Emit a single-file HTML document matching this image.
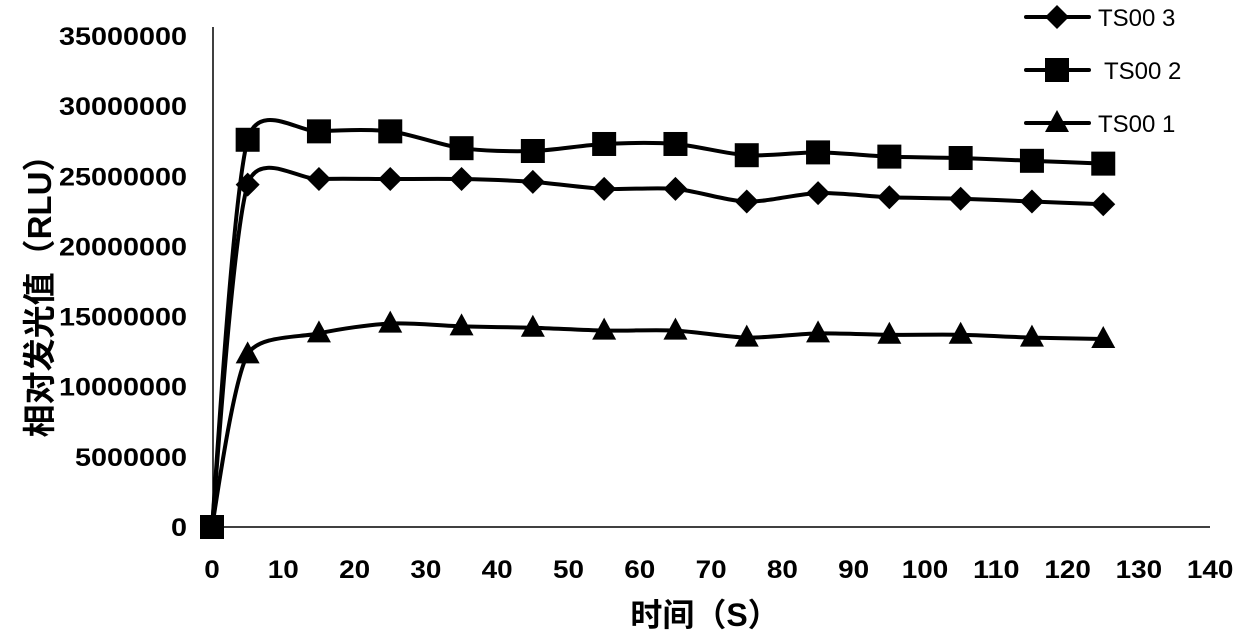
<!DOCTYPE html><html><head><meta charset="utf-8"><style>
body{margin:0;background:#fff;width:1240px;height:641px;overflow:hidden}
svg{display:block}
text{font-family:"Liberation Sans","Noto Sans CJK SC",sans-serif;fill:#000}
</style></head><body>
<svg id="s" width="1240" height="641" xmlns="http://www.w3.org/2000/svg"></svg>
<script>
const s=document.getElementById('s');
const X=t=>212+t*7.13, Y=v=>527-v*14.03;
let h='';
h+='<line x1="213" y1="27" x2="213" y2="527" stroke="#000" stroke-width="1.5"/>';
h+='<line x1="213" y1="527" x2="1210" y2="527" stroke="#000" stroke-width="1.5"/>';
for(let i=0;i<=7;i++){const v=i*5;const str=v?String(v*1000000):'0';
h+=`<text x="187" y="${Y(v)+9}" text-anchor="end" font-size="25" font-weight="bold" textLength="${str.length*16}" lengthAdjust="spacingAndGlyphs">${str}</text>`;}
for(let t=0;t<=140;t+=10){const str=String(t);h+=`<text x="${X(t)}" y="578" text-anchor="middle" font-size="25" font-weight="bold" textLength="${str.length*15.5}" lengthAdjust="spacingAndGlyphs">${str}</text>`;}
h+='<text x="705" y="626" text-anchor="middle" font-size="32" font-weight="bold">时间（S）</text>';
h+='<text transform="translate(51,288) rotate(-90)" text-anchor="middle" font-size="33" font-weight="bold">相对发光值（RLU）</text>';
const ts=[0,5,15,25,35,45,55,65,75,85,95,105,115,125];
const d={
sq:[0,27.6,28.2,28.2,27.0,26.8,27.3,27.3,26.5,26.7,26.4,26.3,26.1,25.9],
di:[0,24.4,24.8,24.8,24.8,24.6,24.1,24.1,23.2,23.8,23.5,23.4,23.2,23.0],
tr:[0,12.3,13.8,14.5,14.3,14.2,14.0,14.0,13.5,13.8,13.7,13.7,13.5,13.4]};
function path(a){const p=ts.map((t,i)=>[X(t),Y(a[i])]);let r=`M${p[0]}`;
for(let i=0;i<p.length-1;i++){const p0=p[Math.max(i-1,0)],p1=p[i],p2=p[i+1],p3=p[Math.min(i+2,p.length-1)];
const f=i==0?12:(i==1?10:7);
const c1=[p1[0]+(p2[0]-p0[0])/f,p1[1]+(p2[1]-p0[1])/f],c2=[p2[0]-(p3[0]-p1[0])/7,p2[1]-(p3[1]-p1[1])/7];
r+=`C${c1} ${c2} ${p2}`;}return r;}
function mk(k,x,y){if(k=='sq')return `<rect x="${x-12}" y="${y-12}" width="24" height="24"/>`;
if(k=='di')return `<polygon points="${x},${y-12} ${x+12},${y} ${x},${y+12} ${x-12},${y}"/>`;
return `<polygon points="${x},${y-13} ${x+12},${y+9} ${x-12},${y+9}"/>`;}
for(const k of ['tr','di','sq']){h+=`<path d="${path(d[k])}" fill="none" stroke="#000" stroke-width="4"/>`;
ts.forEach((t,i)=>h+=mk(k,X(t),Y(d[k][i])));}
[['di','TS00 3',17],['sq','TS00 2',70],['tr','TS00 1',123]].forEach(([k,l,y])=>{
h+=`<line x1="1026" y1="${y}" x2="1089" y2="${y}" stroke="#000" stroke-width="4" stroke-linecap="round"/>`;
h+=mk(k,1057,y).replace(/12/g,'10');
h+=`<text x="${k=='sq'?1104:1098}" y="${y+9}" font-size="24">${l}</text>`;});
s.innerHTML=h;
</script>
</body></html>
